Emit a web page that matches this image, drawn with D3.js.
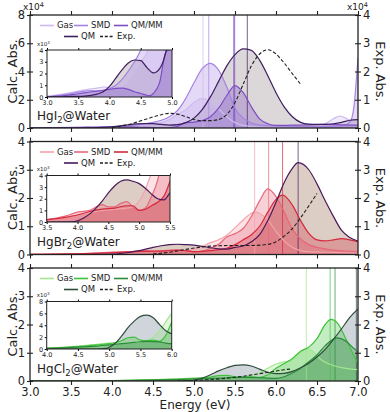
<!DOCTYPE html>
<html>
<head>
<meta charset="utf-8">
<script src="https://cdn.jsdelivr.net/npm/d3@7/dist/d3.min.js"></script>
<style>
body { margin: 0; background: #fff; }
svg text { font-family: "DejaVu Sans", sans-serif; fill: #222; }
</style>
</head>
<body>
<svg id="vis" width="390" height="412"></svg>
<script>
// ---- data (calc. values in 1e4 units, energies in eV) ----
var hgi2Gas = [[3.0,0.005],[3.2,0.02],[3.4,0.04],[3.6,0.06],[3.7,0.07],[3.8,0.075],[3.9,0.085],[4.0,0.08],[4.1,0.075],[4.2,0.09],[4.3,0.14],[4.4,0.22],[4.5,0.3],[4.6,0.38],[4.7,0.6],[4.8,0.95],[4.9,1.3],[5.0,1.8],[5.1,2.1],[5.2,1.85],[5.3,1.35],[5.4,0.8],[5.5,0.38],[5.6,0.18],[5.7,0.1],[5.8,0.07],[6.0,0.05],[6.3,0.06],[6.5,0.12],[6.6,0.3],[6.7,0.65],[6.78,0.85],[6.85,0.7],[6.95,0.3],[7.0,0.2]];
var hgi2Smd = [[3.0,0.003],[3.2,0.015],[3.4,0.03],[3.6,0.05],[3.7,0.055],[3.8,0.05],[3.9,0.055],[4.0,0.07],[4.1,0.1],[4.2,0.15],[4.3,0.22],[4.4,0.3],[4.5,0.4],[4.6,0.55],[4.7,0.8],[4.8,1.25],[4.9,2.1],[5.0,3.2],[5.1,4.2],[5.2,4.58],[5.3,4.1],[5.4,2.9],[5.5,1.4],[5.6,0.7],[5.7,0.35],[5.8,0.22],[5.9,0.18],[6.0,0.15],[6.2,0.12],[6.4,0.1],[6.6,0.1],[6.8,0.15],[6.9,0.4],[6.95,1.5],[7.0,5.0]];
var hgi2Qmmm = [[3.0,0.002],[3.2,0.008],[3.4,0.02],[3.6,0.035],[3.8,0.05],[4.0,0.065],[4.1,0.073],[4.2,0.075],[4.3,0.065],[4.4,0.045],[4.5,0.03],[4.6,0.015],[4.65,0.012],[4.7,0.03],[4.8,0.12],[4.9,0.38],[5.0,0.42],[5.1,0.52],[5.2,0.8],[5.3,1.4],[5.4,2.3],[5.5,3.0],[5.6,2.5],[5.7,1.5],[5.8,0.65],[5.9,0.3],[6.0,0.18],[6.2,0.2],[6.4,0.22],[6.6,0.25],[6.8,0.22],[7.0,0.2]];
var hgi2Qm = [[3.0,0],[3.2,0.002],[3.4,0.005],[3.6,0.008],[3.8,0.025],[3.9,0.045],[4.0,0.09],[4.1,0.16],[4.2,0.23],[4.3,0.29],[4.4,0.315],[4.5,0.31],[4.6,0.25],[4.7,0.205],[4.8,0.24],[4.9,0.38],[5.0,0.7],[5.1,1.3],[5.2,2.2],[5.3,3.3],[5.4,4.4],[5.5,5.2],[5.6,5.6],[5.7,5.5],[5.8,4.8],[5.9,3.7],[6.0,2.5],[6.1,1.5],[6.2,0.8],[6.3,0.4],[6.4,0.27],[6.5,0.25],[6.6,0.25],[6.7,0.3],[6.8,0.4],[6.9,0.55],[7.0,0.6]];
var hgi2Exp = [[4.0,0.02],[4.2,0.12],[4.4,0.3],[4.6,0.47],[4.7,0.52],[4.8,0.49],[4.9,0.4],[5.0,0.3],[5.1,0.26],[5.2,0.26],[5.3,0.3],[5.4,0.48],[5.5,0.9],[5.6,1.55],[5.7,2.2],[5.8,2.62],[5.9,2.77],[6.0,2.62],[6.1,2.3],[6.2,1.92],[6.3,1.55]];
var hgi2Sticks = [5.11, 5.18, 5.49, 5.65];

var hgbr2Gas = [[3.0,0.005],[3.3,0.01],[3.5,0.02],[3.7,0.03],[3.9,0.05],[4.0,0.06],[4.2,0.08],[4.4,0.1],[4.6,0.11],[4.8,0.12],[4.9,0.13],[5.0,0.18],[5.1,0.28],[5.2,0.42],[5.3,0.52],[5.4,0.68],[5.5,0.95],[5.6,1.22],[5.7,1.46],[5.75,1.5],[5.8,1.45],[5.9,1.22],[6.0,0.82],[6.1,0.48],[6.2,0.25],[6.3,0.14],[6.4,0.1],[6.6,0.08],[7.0,0.05]];
var hgbr2Smd = [[3.0,0.005],[3.5,0.02],[3.8,0.05],[4.0,0.085],[4.2,0.1],[4.4,0.15],[4.5,0.13],[4.6,0.13],[4.7,0.16],[4.8,0.175],[4.9,0.13],[5.0,0.1],[5.1,0.12],[5.2,0.22],[5.3,0.36],[5.4,0.62],[5.5,0.74],[5.6,0.92],[5.7,1.35],[5.8,1.9],[5.9,2.32],[6.0,2.05],[6.1,1.5],[6.2,0.9],[6.3,0.55],[6.4,0.35],[6.6,0.2],[7.0,0.1]];
var hgbr2Qmmm = [[3.0,0.005],[3.5,0.02],[3.8,0.04],[4.0,0.06],[4.2,0.09],[4.4,0.11],[4.6,0.12],[4.8,0.14],[4.9,0.14],[5.0,0.1],[5.1,0.11],[5.2,0.14],[5.3,0.17],[5.4,0.22],[5.5,0.35],[5.6,0.52],[5.7,0.7],[5.8,1.0],[5.9,1.5],[6.0,1.95],[6.08,2.1],[6.2,1.75],[6.3,1.2],[6.4,0.75],[6.5,0.52],[6.6,0.48],[6.7,0.52],[6.8,0.56],[6.9,0.52],[7.0,0.45]];
var hgbr2Qm = [[3.0,0],[3.5,0],[3.9,0.002],[4.0,0.01],[4.1,0.035],[4.2,0.07],[4.3,0.12],[4.4,0.18],[4.5,0.25],[4.6,0.31],[4.7,0.35],[4.8,0.362],[4.9,0.35],[5.0,0.33],[5.1,0.29],[5.2,0.24],[5.3,0.2],[5.4,0.19],[5.5,0.25],[5.6,0.3],[5.7,0.45],[5.8,0.7],[5.9,1.2],[6.0,1.85],[6.1,2.55],[6.2,3.05],[6.27,3.25],[6.4,3.0],[6.5,2.5],[6.6,1.9],[6.7,1.35],[6.8,0.85],[6.9,0.6],[7.0,0.47]];
var hgbr2Exp = [[4.5,0.02],[4.7,0.08],[4.9,0.18],[5.1,0.27],[5.3,0.31],[5.5,0.32],[5.7,0.32],[5.9,0.36],[6.0,0.45],[6.1,0.65],[6.2,0.92],[6.3,1.3],[6.4,1.72],[6.5,2.16]];
var hgbr2Sticks = [5.74, 5.91, 6.08, 6.27];

var hgcl2Gas = [[3.0,0.002],[3.5,0.006],[4.0,0.015],[4.5,0.05],[4.8,0.08],[5.0,0.1],[5.2,0.1],[5.4,0.11],[5.6,0.14],[5.7,0.19],[5.8,0.3],[5.9,0.45],[6.0,0.6],[6.1,0.68],[6.2,0.75],[6.3,1.0],[6.37,1.15],[6.45,1.05],[6.55,0.75],[6.7,0.55],[6.85,0.45],[7.0,0.4]];
var hgcl2Smd = [[3.0,0.002],[3.5,0.005],[4.0,0.012],[4.5,0.04],[4.8,0.07],[5.0,0.09],[5.2,0.14],[5.3,0.19],[5.4,0.2],[5.5,0.15],[5.6,0.14],[5.7,0.15],[5.8,0.13],[5.9,0.22],[6.0,0.45],[6.1,0.62],[6.2,0.8],[6.3,1.05],[6.4,1.2],[6.5,1.5],[6.6,2.0],[6.67,2.18],[6.75,2.05],[6.85,1.5],[6.95,0.9],[7.0,0.6]];
var hgcl2Qmmm = [[3.0,0.001],[3.5,0.004],[4.0,0.01],[4.5,0.03],[4.8,0.05],[5.0,0.07],[5.2,0.09],[5.4,0.11],[5.6,0.13],[5.8,0.12],[5.9,0.1],[6.0,0.09],[6.1,0.15],[6.2,0.28],[6.3,0.45],[6.4,0.68],[6.5,0.92],[6.6,1.25],[6.74,1.53],[6.85,1.42],[6.95,1.15],[7.0,1.04]];
var hgcl2Qm = [[3.0,0],[4.0,0],[4.8,0],[4.95,0.01],[5.0,0.03],[5.1,0.1],[5.2,0.22],[5.3,0.36],[5.4,0.47],[5.5,0.55],[5.6,0.57],[5.7,0.53],[5.8,0.42],[5.9,0.31],[6.0,0.26],[6.1,0.27],[6.2,0.34],[6.3,0.47],[6.4,0.63],[6.5,0.85],[6.6,1.12],[6.7,1.47],[6.8,1.85],[6.9,2.25],[7.0,2.55]];
var hgcl2Exp = [[4.8,0.0],[5.0,0.02],[5.2,0.05],[5.4,0.1],[5.6,0.17],[5.8,0.26],[6.0,0.35],[6.1,0.4],[6.17,0.42]];
var hgcl2Sticks = [6.37, 6.66, 6.72, 6.98];

var seriesNames = ["Gas", "SMD", "QM/MM", "QM"];
var energyTicks = [3.0, 3.5, 4.0, 4.5, 5.0, 5.5, 6.0, 6.5, 7.0];

// ---- panels ----
var panels = [
  { base: "HgI", rest: "@Water", series: [hgi2Gas, hgi2Smd, hgi2Qmmm, hgi2Qm], exp: hgi2Exp, sticks: hgi2Sticks,
    colors: ["#cdbbed", "#a583e3", "#7d4fc4", "#3e1f60"], qmFill: "#a89a9e",
    leftTicks: [0, 2, 4, 6, 8], insetDomain: [3, 5], insetTicks: [0, 1, 2, 3, 4] },
  { base: "HgBr", rest: "@Water", series: [hgbr2Gas, hgbr2Smd, hgbr2Qmmm, hgbr2Qm], exp: hgbr2Exp, sticks: hgbr2Sticks,
    colors: ["#f3a3ab", "#e8677a", "#d42a3c", "#4a1958"], qmFill: "#a8846f",
    leftTicks: [0, 1, 2, 3, 4], insetDomain: [3.5, 5.5], insetTicks: [0, 1, 2, 3, 4] },
  { base: "HgCl", rest: "@Water", series: [hgcl2Gas, hgcl2Smd, hgcl2Qmmm, hgcl2Qm], exp: hgcl2Exp, sticks: hgcl2Sticks,
    colors: ["#a2e68f", "#3fc23a", "#2b8a3b", "#2f4d3d"], qmFill: "#8795a6",
    leftTicks: [0, 1, 2, 3, 4], insetDomain: [4, 6], insetTicks: [0, 2, 4, 6, 8] }
];

var svg = d3.select("svg#vis");
var defs = svg.append("defs");

var attr = { left: 30, right: 358, panelH: 113, tops: [15, 141.5, 268] };
var insetBox = [
  { x: 47, y: 50, w: 125, h: 47 },
  { x: 46.7, y: 175.5, w: 123.3, h: 46.5 },
  { x: 46.7, y: 301.5, w: 125, h: 47.5 }
];

var x = d3.scaleLinear().domain([3, 7]).range([attr.left, attr.right]);

// draws fills for the 4 calc series, returns the line generator
function drawSeries(g, xs, ys, p, k) {
  var area = d3.area()
    .x(d => xs(d[0])).y0(ys(0)).y1(d => ys(d[1] * k))
    .curve(d3.curveMonotoneX);
  var line = d3.line()
    .x(d => xs(d[0])).y(d => ys(d[1] * k))
    .curve(d3.curveMonotoneX);
  [3, 0, 1, 2].forEach(function(i) {
    g.append("path").datum(p.series[i])
      .attr("d", area)
      .attr("fill", i == 3 ? p.qmFill : p.colors[i])
      .attr("fill-opacity", i == 3 ? 0.4 : 0.3);
  });
  return line;
}

function strokeSeries(g, line, p) {
  [0, 1, 2, 3].forEach(function(i) {
    g.append("path").datum(p.series[i])
      .attr("d", line)
      .attr("fill", "none")
      .attr("stroke", p.colors[i])
      .attr("stroke-width", 1.2);
  });
}

panels.forEach(function(p, n) {
  var top = attr.tops[n], bottom = top + attr.panelH;
  var yL = d3.scaleLinear().domain([0, p.leftTicks[4]]).range([bottom, top]);
  var yR = d3.scaleLinear().domain([0, 4]).range([bottom, top]);

  defs.append("clipPath").attr("id", "clip" + n).append("rect")
    .attr("x", attr.left).attr("y", top).attr("width", attr.right - attr.left).attr("height", attr.panelH);

  var g = svg.append("g").attr("clip-path", "url(#clip" + n + ")");
  var line = drawSeries(g, x, yL, p, 1);

  // transition sticks
  p.sticks.forEach(function(e, i) {
    g.append("line")
      .attr("x1", x(e)).attr("x2", x(e)).attr("y1", top).attr("y2", bottom)
      .attr("stroke", p.colors[i]).attr("stroke-opacity", 0.7)
      .attr("stroke-width", (n == 0 && i == 2) ? 2 : 1);
  });

  strokeSeries(g, line, p);

  // experimental spectrum on right axis
  g.append("path").datum(p.exp)
    .attr("d", d3.line().x(d => x(d[0])).y(d => yR(d[1])).curve(d3.curveMonotoneX))
    .attr("fill", "none").attr("stroke", "#222").attr("stroke-width", 1.1)
    .attr("stroke-dasharray", "3.5,2");

  // inset
  var b = insetBox[n];
  var xi = d3.scaleLinear().domain(p.insetDomain).range([b.x, b.x + b.w]);
  var yi = d3.scaleLinear().domain([0, p.insetTicks[4]]).range([b.y + b.h, b.y]);
  svg.append("rect").attr("x", b.x).attr("y", b.y).attr("width", b.w).attr("height", b.h).attr("fill", "#fff");
  defs.append("clipPath").attr("id", "iclip" + n).append("rect")
    .attr("x", b.x).attr("y", b.y).attr("width", b.w).attr("height", b.h);
  var gi = svg.append("g").attr("clip-path", "url(#iclip" + n + ")");
  var iline = drawSeries(gi, xi, yi, p, 10);
  strokeSeries(gi, iline, p);

  var ixAxis = svg.append("g").attr("transform", "translate(0," + (b.y + b.h) + ")")
    .call(d3.axisBottom(xi).ticks(4).tickFormat(d3.format(".1f")).tickSize(2).tickPadding(1.5));
  var iyAxis = svg.append("g").attr("transform", "translate(" + b.x + ",0)")
    .call(d3.axisLeft(yi).tickValues(p.insetTicks).tickFormat(d3.format("d")).tickSize(2).tickPadding(1.5));
  svg.append("g").attr("transform", "translate(0," + b.y + ")")
    .call(d3.axisTop(xi).ticks(4).tickFormat("").tickSize(2))
    .select(".domain").remove();
  [ixAxis, iyAxis].forEach(function(a) {
    a.selectAll("text").style("font-size", "6.5px").attr("fill", "#222");
    a.select(".domain").remove();
  });
  svg.append("rect").attr("x", b.x).attr("y", b.y).attr("width", b.w).attr("height", b.h)
    .attr("fill", "none").attr("stroke", "#222").attr("stroke-width", 1);
  var ix = svg.append("text").attr("x", b.x - 10).attr("y", b.y - 4.5).style("font-size", "5.5px");
  ix.append("tspan").text("x10");
  ix.append("tspan").attr("dy", -2).style("font-size", "4px").text("3");

  // axes
  var xb = svg.append("g").attr("transform", "translate(0," + bottom + ")")
    .call(d3.axisBottom(x).tickValues(energyTicks).tickSize(4).tickPadding(3)
      .tickFormat(n == 2 ? d3.format(".1f") : ""));
  var xt = svg.append("g").attr("transform", "translate(0," + top + ")")
    .call(d3.axisTop(x).tickValues(energyTicks).tickSize(4).tickFormat(""));
  var yl = svg.append("g").attr("transform", "translate(" + attr.left + ",0)")
    .call(d3.axisLeft(yL).tickValues(p.leftTicks).tickFormat(d3.format("d")).tickSize(3).tickPadding(2));
  yl.selectAll(".tick line").attr("x1", 3);
  var yr = svg.append("g").attr("transform", "translate(" + attr.right + ",0)")
    .call(d3.axisRight(yR).tickValues([0, 1, 2, 3, 4]).tickFormat(d3.format("d")).tickSize(3).tickPadding(2));
  yr.selectAll(".tick line").attr("x1", -3);
  [xb, xt, yl, yr].forEach(function(a) {
    a.select(".domain").remove();
    a.selectAll("line").attr("stroke", "#222").attr("stroke-width", 1.1);
    a.selectAll("text").style("font-size", "11.5px").attr("fill", "#222");
  });
  svg.append("rect").attr("x", attr.left).attr("y", top)
    .attr("width", attr.right - attr.left).attr("height", attr.panelH)
    .attr("fill", "none").attr("stroke", "#222").attr("stroke-width", 1.3);

  // axis titles
  svg.append("text").attr("transform", "translate(17," + (top + attr.panelH / 2) + ") rotate(-90)")
    .attr("text-anchor", "middle").style("font-size", "13px").text("Calc. Abs.");
  svg.append("text").attr("transform", "translate(376," + (top + attr.panelH / 2) + ") rotate(90)")
    .attr("text-anchor", "middle").style("font-size", "13px").text("Exp. Abs.");

  // molecule label
  var lab = svg.append("text").attr("x", 37).attr("y", bottom - 8.5).style("font-size", "12px");
  lab.append("tspan").text(p.base);
  lab.append("tspan").attr("dy", 3).style("font-size", "8.5px").text("2");
  lab.append("tspan").attr("dy", -3).text(p.rest);

  // legend
  var rows = [
    [[0, 40, 57], [1, 74, 91], [2, 114, 131]],
    [[3, 64, 81], [4, 100, 117]]
  ];
  rows.forEach(function(r, ri) {
    var ly = top + 10.5 + ri * 11;
    r.forEach(function(it) {
      var isExp = it[0] == 4;
      svg.append("line").attr("x1", it[1]).attr("x2", it[1] + 14).attr("y1", ly).attr("y2", ly)
        .attr("stroke", isExp ? "#222" : p.colors[it[0]]).attr("stroke-width", 1.6)
        .attr("stroke-dasharray", isExp ? "3,1.8" : null);
      svg.append("text").attr("x", it[2]).attr("y", ly).attr("dy", "0.35em")
        .style("font-size", "8.5px").text(isExp ? "Exp." : seriesNames[it[0]]);
    });
  });
});

// scale factor labels
function sciLabel(xp) {
  var t = svg.append("text").attr("x", xp).attr("y", 10).style("font-size", "9px");
  t.append("tspan").text("x10");
  t.append("tspan").attr("dy", -3.5).style("font-size", "6.5px").text("4");
}
sciLabel(23);
sciLabel(347);

svg.append("text").attr("x", 195).attr("y", 408.5).attr("text-anchor", "middle")
  .style("font-size", "12px").text("Energy (eV)");
</script>
</body>
</html>
